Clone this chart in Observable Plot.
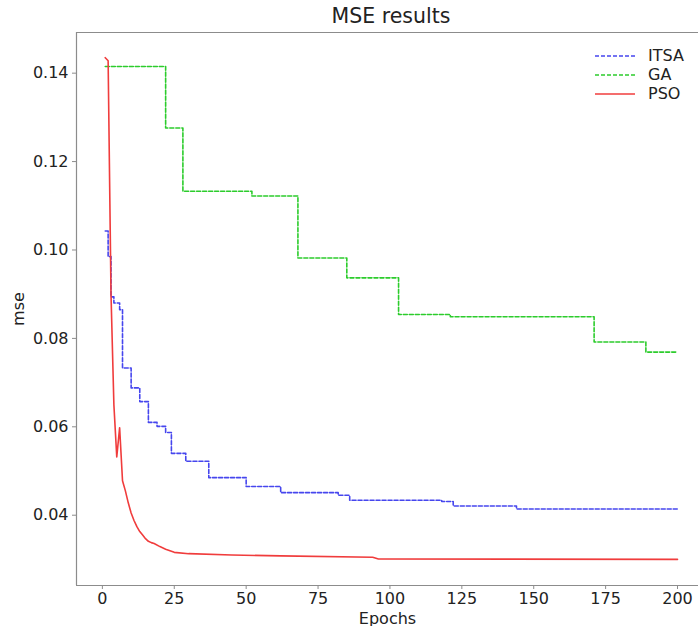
<!DOCTYPE html>
<html>
<head>
<meta charset="utf-8">
<script src="https://cdn.jsdelivr.net/npm/d3@7"></script>
<script src="https://cdn.jsdelivr.net/npm/@observablehq/plot@0.6"></script>
<style>
  html, body { margin: 0; padding: 0; background: #fff; }
  #wrap { position: relative; width: 698px; height: 626px; font-family: "DejaVu Sans", sans-serif; }
  #title { position: absolute; left: 76px; width: 630px; top: 4px; text-align: center; font-size: 20.5px; color: #222; }
  #legend { position: absolute; left: 595px; top: 46px; font-size: 16px; color: #222; }
  #legend .row { display: flex; align-items: center; height: 19px; }
  #legend svg { margin-right: 13px; }
</style>
</head>
<body>
<div id="wrap">
  <div id="chart"></div>
  <div id="title">MSE results</div>
  <div id="legend"></div>
</div>
<script>
const seriesNames = ["ITSA", "GA", "PSO"];
const seriesColors = ["#4646ee", "#2ccc2c", "#f03c3c"];
const seriesDash = ["4,2", "4,2", null];

const itsaEpochs = [1, 2, 3, 4, 6, 7, 10, 13, 16, 19, 22, 24, 29, 37, 50, 62, 82, 86, 118, 122, 144, 200];
const itsaMse = [0.1043, 0.0985, 0.0894, 0.0880, 0.0865, 0.0733, 0.0688, 0.0657, 0.0610, 0.0601, 0.0587, 0.0540, 0.0522, 0.0485, 0.0465, 0.0451, 0.0445, 0.0434, 0.0431, 0.0421, 0.0414, 0.0414];

const gaEpochs = [1, 22, 28, 52, 68, 85, 103, 121, 171, 189, 200];
const gaMse = [0.1415, 0.1276, 0.1133, 0.1122, 0.0982, 0.0937, 0.0854, 0.0849, 0.0792, 0.0769, 0.0769];

const psoEpochs = [1, 2, 3, 4, 5, 6, 7, 8, 9, 10, 11, 12, 13, 14, 15, 16, 17, 18, 20, 22, 25, 30, 45, 62, 94, 96, 200];
const psoMse = [0.1435, 0.1428, 0.0900, 0.0650, 0.0532, 0.0598, 0.0478, 0.0455, 0.0428, 0.0405, 0.0388, 0.0374, 0.0363, 0.0355, 0.0347, 0.0341, 0.0338, 0.0336, 0.0329, 0.0323, 0.0316, 0.0313, 0.0310, 0.0308, 0.0305, 0.0301, 0.0300];

const xTicks = [0, 25, 50, 75, 100, 125, 150, 175, 200];
const yTicks = [0.04, 0.06, 0.08, 0.10, 0.12, 0.14];

const toRows = (name, xs, ys) => xs.map((e, i) => ({series: name, epoch: e, mse: ys[i]}));
const itsa = toRows("ITSA", itsaEpochs, itsaMse);
const ga = toRows("GA", gaEpochs, gaMse);
const pso = toRows("PSO", psoEpochs, psoMse);

const xDomain = [-9, 207.3];
const yDomain = [0.0241, 0.1492];
const axisColor = "#8c8c8c";

const chart = Plot.plot({
  width: 698,
  height: 626,
  marginLeft: 76,
  marginRight: 0,
  marginTop: 32,
  marginBottom: 41,
  style: {fontFamily: "DejaVu Sans, sans-serif", fontSize: "16px", color: "#222", background: "#fff"},
  x: {domain: xDomain},
  y: {domain: yDomain},
  marks: [
    Plot.ruleY([yDomain[1]], {stroke: axisColor, strokeWidth: 1.2}),
    Plot.ruleY([yDomain[0]], {stroke: axisColor, strokeWidth: 1.2}),
    Plot.ruleX([xDomain[0]], {stroke: axisColor, strokeWidth: 1.2}),
    Plot.axisX({ticks: xTicks, tickSize: 4, tickPadding: 3, stroke: axisColor, fill: "#222", fontSize: 16,
      label: "Epochs", labelAnchor: "center", labelArrow: "none", labelOffset: 38}),
    Plot.axisY({ticks: yTicks, tickSize: 4, tickPadding: 4, stroke: axisColor, fill: "#222", fontSize: 16,
      tickFormat: d3.format(".2f"),
      label: "mse", labelAnchor: "center", labelArrow: "none", labelOffset: 64}),
    Plot.line(itsa, {x: "epoch", y: "mse", curve: "step-after", stroke: seriesColors[0], strokeWidth: 1.6, strokeDasharray: seriesDash[0]}),
    Plot.line(ga, {x: "epoch", y: "mse", curve: "step-after", stroke: seriesColors[1], strokeWidth: 1.6, strokeDasharray: seriesDash[1]}),
    Plot.line(pso, {x: "epoch", y: "mse", curve: "linear", stroke: seriesColors[2], strokeWidth: 1.6})
  ]
});
document.getElementById("chart").appendChild(chart);

const legend = document.getElementById("legend");
seriesNames.forEach((name, i) => {
  const row = document.createElement("div");
  row.className = "row";
  const dash = seriesDash[i] ? ` stroke-dasharray="${seriesDash[i]}"` : "";
  row.innerHTML = `<svg width="40" height="10"><line x1="0" y1="5" x2="40" y2="5" stroke="${seriesColors[i]}" stroke-width="1.6"${dash}/></svg><span>${name}</span>`;
  legend.appendChild(row);
});
</script>
</body>
</html>
